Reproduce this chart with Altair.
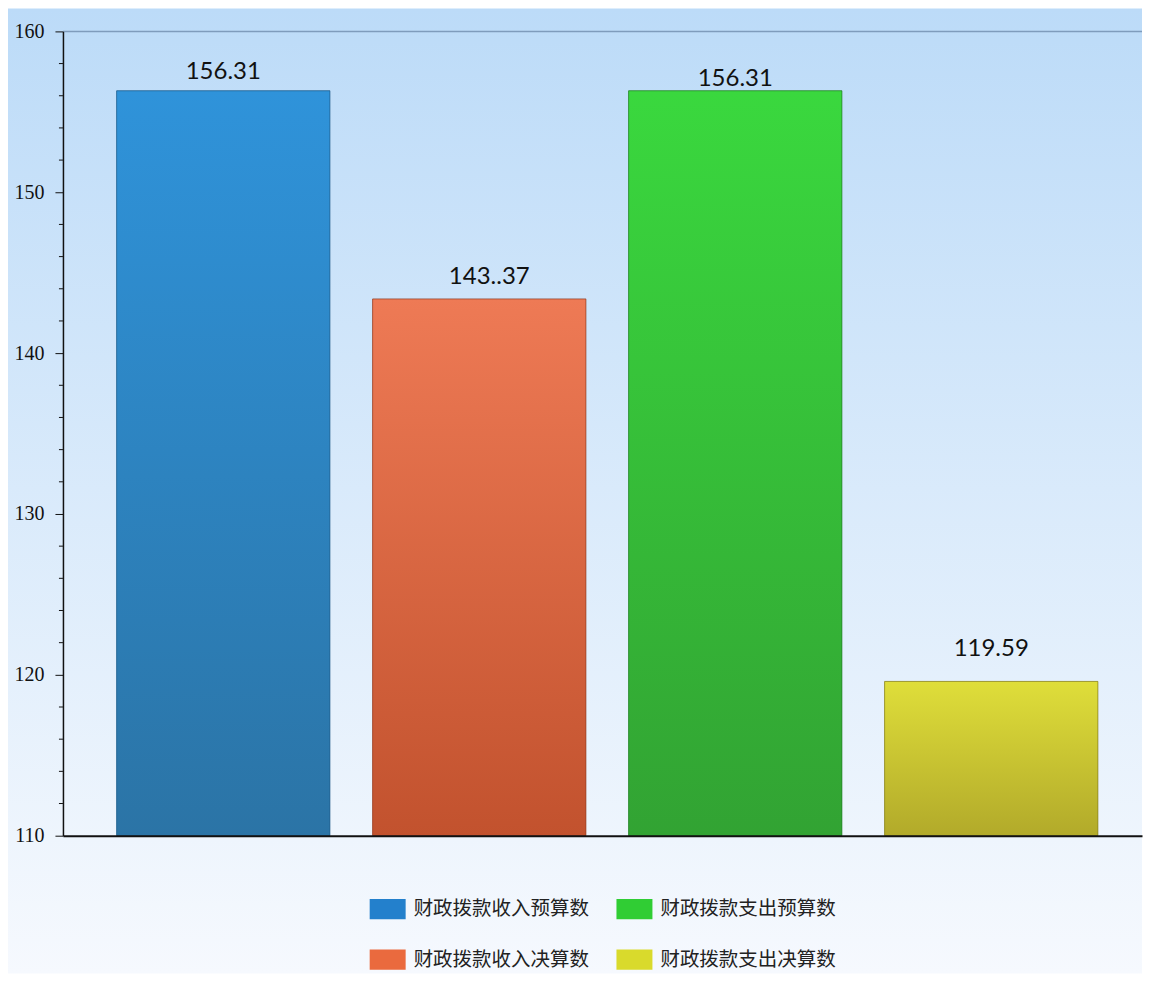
import altair as alt
import pandas as pd

# ---- data ----
categories = ["财政拨款收入预算数", "财政拨款收入决算数", "财政拨款支出预算数", "财政拨款支出决算数"]
values = [156.31, 143.37, 156.31, 119.59]
labels = ["156.31", "143..37", "156.31", "119.59"]
y_ticks = [110, 120, 130, 140, 150, 160]
y_minor = [112, 114, 116, 118, 122, 124, 126, 128, 132, 134, 136, 138,
           142, 144, 146, 148, 152, 154, 156, 158]

df = pd.DataFrame({"cat": categories, "value": values, "label": labels})

# ---- styles ----
legend_order = [categories[0], categories[2], categories[1], categories[3]]
legend_colors = ["#2380cc", "#30cd34", "#ea6a3e", "#d9da2c"]
grad_colors = {
    categories[0]: ("#2f93da", "#2b74a6", "#1f5a85"),
    categories[1]: ("#ee7a55", "#c2522e", "#8e3a1f"),
    categories[2]: ("#3ad83e", "#32a333", "#237a25"),
    categories[3]: ("#dfde3a", "#b2aa2a", "#7f7a1c"),
}
label_offsets = {
    categories[0]: (0, -12),
    categories[1]: (10, -15),
    categories[2]: (0, -5),
    categories[3]: (0, -25),
}

W, H = 1080, 805
LEFT, TOP, BOTTOM = 55, 23, 138

x_enc = alt.X("cat:N", sort=categories, axis=alt.Axis(title=None, labels=False, ticks=False,
              domainColor="#111111", domainWidth=2, zindex=1),
              scale=alt.Scale(paddingInner=0.1667, paddingOuter=0.191, align=0.549))
y_scale = alt.Scale(domain=[110, 160], zero=False, nice=False)
y_enc = alt.Y("value:Q", scale=y_scale,
              axis=alt.Axis(title=None, values=y_ticks, grid=False, tickSize=8,
                            tickColor="#111111", domainColor="#111111", domainWidth=1.5,
                            labelFont="Liberation Serif", labelFontSize=20, labelColor="#111111",
                            labelPadding=11, zindex=1))

# background gradient rect
bg = alt.Chart(alt.Data(values=[{"a": 1}])).mark_rect(
    fill=alt.Gradient(gradient="linear", x1=0, x2=0, y1=0, y2=1,
                      stops=[alt.GradientStop(color="#bcdbf8", offset=0),
                             alt.GradientStop(color="#eef5fd", offset=0.86),
                             alt.GradientStop(color="#f6f9fe", offset=1)]),
    stroke=None
).encode(x=alt.value(-LEFT), x2=alt.value(W), y=alt.value(-TOP), y2=alt.value(H + BOTTOM))

base = alt.Chart(df)

bars = base.mark_bar().encode(
    x=x_enc,
    y=y_enc,
    y2=alt.datum(110),
    color=alt.Color("cat:N", scale=alt.Scale(domain=legend_order, range=legend_colors),
                    legend=alt.Legend(title=None, orient="none", legendX=307, legendY=860,
                                      columns=2, direction="horizontal",
                                      symbolType="M-1,-0.56H1V0.56H-1Z", symbolSize=1296,
                                      symbolStrokeWidth=0, symbolOpacity=1,
                                      labelFont="Noto Sans CJK SC", labelFontSize=19.5,
                                      labelColor="#222222", labelOffset=8, labelLimit=400,
                                      columnPadding=27, rowPadding=22, padding=0)),
)

overlays = []
for c in categories:
    top, bot, edge = grad_colors[c]
    overlays.append(
        base.transform_filter(alt.datum.cat == c).mark_bar(
            fill=alt.Gradient(gradient="linear", x1=0, x2=0, y1=0, y2=1,
                              stops=[alt.GradientStop(color=top, offset=0),
                                     alt.GradientStop(color=bot, offset=1)]),
            stroke=edge, strokeWidth=1, strokeOpacity=0.7
        ).encode(x=alt.X("cat:N", sort=categories), y=alt.Y("value:Q"), y2=alt.datum(110))
    )

texts = []
for c in categories:
    dx, dy = label_offsets[c]
    texts.append(
        base.transform_filter(alt.datum.cat == c).mark_text(
            font="Lato", fontSize=24, color="#111111", baseline="alphabetic",
            align="center", dx=dx, dy=dy
        ).encode(x=alt.X("cat:N", sort=categories), y=alt.Y("value:Q"), text="label:N")
    )

minor = alt.Chart(pd.DataFrame({"t": y_minor})).mark_rule(color="#111111", strokeWidth=1).encode(
    y=alt.Y("t:Q"), x=alt.value(-4), x2=alt.value(0))

top_line = alt.Chart(alt.Data(values=[{"a": 1}])).mark_rule(color="#7f9cbc", strokeWidth=1.5).encode(
    y=alt.datum(160), x=alt.value(0), x2=alt.value(W))

chart = alt.layer(bg, bars, *overlays, *texts, minor, top_line).properties(
    width=W, height=H, padding=0, background="#ffffff"
).configure_view(stroke=None)

chart.save("out.html", embed_options={"renderer": "svg", "actions": False})
